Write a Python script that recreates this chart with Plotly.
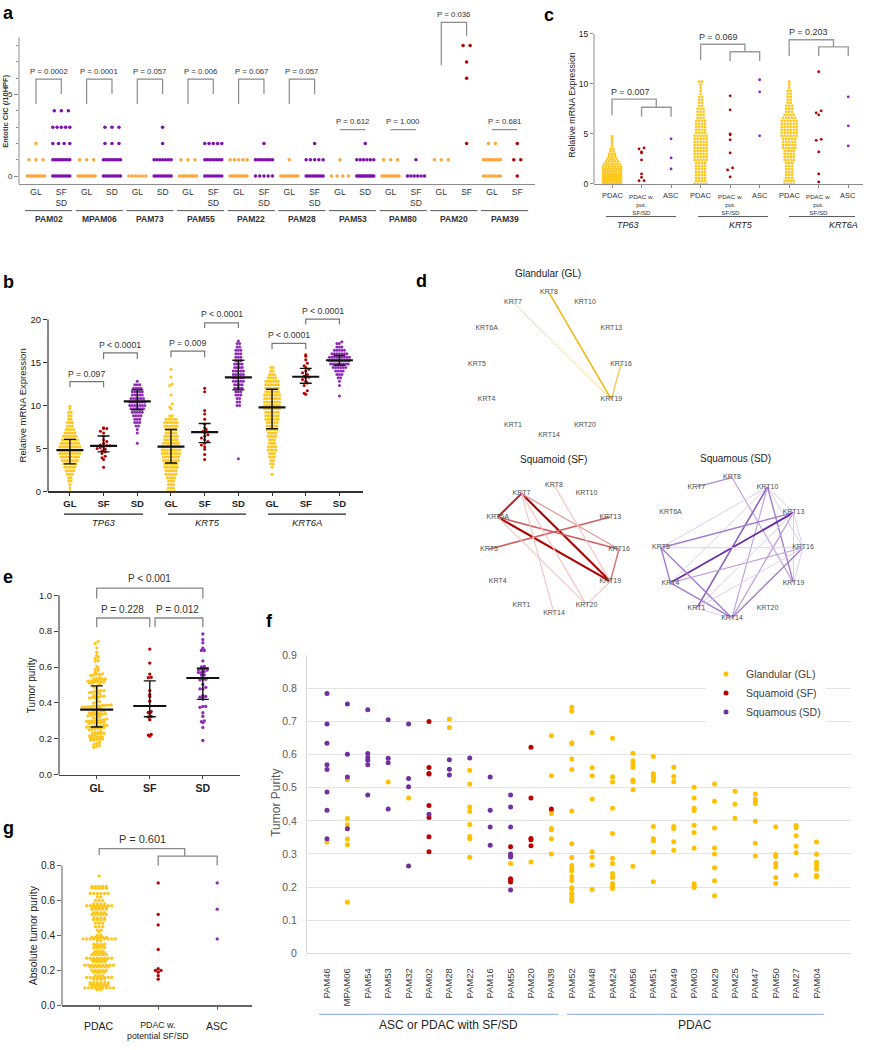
import math
import plotly.graph_objects as go

W, H = 870, 1050
FONT = "Arial, 'Liberation Sans', sans-serif"


def fx(p):
    return p / W


def fy(p):
    return 1 - p / H


# ======================= DATA =======================
# ---- panel a : dots per entotic CIC level (list index = CIC count /10HPF)
a_samples = ["PAM02", "MPAM06", "PAM73", "PAM55", "PAM22", "PAM28", "PAM53", "PAM80", "PAM20", "PAM39"]
a_second = ["SF<br>SD", "SD", "SD", "SF<br>SD", "SF<br>SD", "SF<br>SD", "SD", "SF<br>SD", "SF", "SF"]
a_sq_kind = ["SD", "SD", "SD", "SD", "SD", "SD", "SD", "SD", "SF", "SF"]
a_gl_counts = [[9, 3, 1], [9, 3], [6], [9, 3], [9, 5], [9, 1], [4, 1], [9, 3], [0, 3], [7, 9, 2]]
a_sq_counts = [[9, 9, 4, 5, 3], [9, 9, 3, 3], [9, 7, 1, 1], [8, 8, 5], [5, 8, 1], [9, 5, 1],
               [12, 6, 1], [6, 1], [0, 0, 1, 0, 0, 0, 1, 1, 2], [1, 2, 1]]
a_pvals = ["P = 0.0002", "P = 0.0001", "P = 0.057", "P = 0.006", "P = 0.067", "P = 0.057",
           "P = 0.612", "P = 1.000", "P = 0.036", "P = 0.681"]

# ---- panel b : relative mRNA expression (levels + dots per level, or explicit values)
b_genes = ["TP63", "KRT5", "KRT6A"]
b_types = ["GL", "SF", "SD"]
b_tp63_gl_lv = [0.0, 0.4, 0.8, 1.2, 1.6, 2.0, 2.4, 2.8, 3.2, 3.6, 4.0, 4.4, 4.8, 5.2, 5.6, 6.0, 6.4, 6.8,
                7.2, 7.6, 8.0, 8.4, 8.8, 9.2, 9.6, 9.9]
b_tp63_gl_ct = [1, 1, 1, 2, 2, 3, 4, 5, 6, 7, 8, 9, 9, 9, 8, 7, 6, 5, 4, 3, 3, 2, 2, 2, 1, 1]
b_tp63_sf = [7.4, 7.3, 7.3, 7.0, 6.8, 6.4, 6.0, 5.8, 5.6, 5.4, 5.3, 5.3, 5.2, 5.1, 5.0, 4.9, 4.7, 4.6,
             4.4, 4.1, 3.9, 3.7, 2.8]
b_tp63_sd_lv = [5.6, 6.8, 7.2, 7.6, 8.0, 8.4, 8.8, 9.2, 9.6, 10.0, 10.4, 10.8, 11.2, 11.6, 12.0, 12.4, 12.8]
b_tp63_sd_ct = [1, 1, 1, 2, 3, 3, 4, 5, 6, 7, 7, 6, 5, 5, 4, 3, 1]
b_krt5_gl_lv = [0.0, 0.4, 0.8, 1.2, 1.6, 2.0, 2.4, 2.8, 3.2, 3.6, 4.0, 4.4, 4.8, 5.2, 5.6, 6.0, 6.4, 6.8,
                7.2, 7.6, 8.0, 8.4, 8.8]
b_krt5_gl_ct = [4, 3, 3, 3, 4, 5, 5, 6, 6, 7, 7, 8, 8, 8, 7, 6, 6, 5, 5, 6, 6, 5, 2]
b_krt5_gl_tail = [9.6, 9.8, 10.2, 11.2, 12.3, 12.5, 13.3, 14.2]
b_krt5_sf = [12.0, 11.6, 9.4, 9.0, 8.4, 7.8, 7.4, 7.2, 7.0, 6.8, 6.6, 6.4, 6.2, 6.0, 5.8, 5.6, 5.4,
             5.2, 4.9, 4.3, 3.7]
b_krt5_sd_lv = [10.0, 10.4, 10.8, 11.2, 11.6, 12.0, 12.4, 12.8, 13.2, 13.6, 14.0, 14.4, 14.8, 15.2,
                15.6, 16.0, 16.4, 16.8, 17.2]
b_krt5_sd_ct = [2, 2, 2, 3, 3, 4, 4, 5, 5, 5, 5, 4, 4, 3, 3, 3, 3, 2, 2]
b_krt5_sd_extra = [3.8, 17.5]
b_krt6a_gl_lv = [2.0, 2.4, 2.8, 3.2, 3.6, 4.0, 4.4, 4.8, 5.2, 5.6, 6.0, 6.4, 6.8, 7.2, 7.6, 8.0, 8.4,
                 8.8, 9.2, 9.6, 10.0, 10.4, 10.8, 11.2, 11.6, 12.0, 12.4, 12.8, 13.2, 13.6, 14.0, 14.4]
b_krt6a_gl_ct = [1, 0, 1, 2, 2, 3, 3, 4, 4, 3, 3, 4, 4, 5, 5, 5, 6, 6, 6, 7, 7, 7, 7, 7, 6, 6, 6, 6,
                 4, 3, 2, 2]
b_krt6a_sf = [15.9, 15.7, 15.3, 14.9, 14.6, 14.4, 14.2, 14.0, 13.8, 13.6, 13.4, 13.3, 13.2, 13.0,
              12.8, 12.6, 12.3, 11.7, 11.4, 11.3]
b_krt6a_sd_lv = [12.8, 13.2, 13.6, 14.0, 14.4, 14.8, 15.2, 15.6, 16.0, 16.4, 16.8, 17.2]
b_krt6a_sd_ct = [1, 2, 3, 4, 6, 8, 9, 9, 7, 5, 3, 2]
b_krt6a_sd_extra = [11.1, 12.3, 17.4]
b_center = [4.79, 5.29, 10.46, 5.2, 6.9, 13.26, 9.77, 13.33, 15.25]
b_low = [3.2, 4.6, 9.5, 3.3, 5.67, 11.8, 7.28, 12.57, 14.67]
b_high = [6.05, 6.44, 11.8, 7.2, 7.9, 15.25, 11.88, 14.3, 15.8]
b_pvals = ["P = 0.097", "P < 0.0001", "P = 0.009", "P < 0.0001", "P < 0.0001", "P < 0.0001"]

# ---- panel c
c_tp63_pdac_lv = [0.0, 0.25, 0.5, 0.75, 1.0, 1.25, 1.5, 1.75, 2.0, 2.25, 2.5, 2.75, 3.0, 3.25, 3.5,
                  3.75, 4.0, 4.25, 4.5, 4.75]
c_tp63_pdac_ct = [12, 13, 12, 11, 10, 9, 8, 7, 6, 5, 4, 3, 3, 2, 2, 1, 1, 1, 1, 1]
c_krt_lv = [0.0, 0.3, 0.6, 0.9, 1.2, 1.5, 1.8, 2.1, 2.4, 2.7, 3.0, 3.3, 3.6, 3.9, 4.2, 4.5, 4.8, 5.1,
            5.4, 5.7, 6.0, 6.3, 6.6, 6.9, 7.2, 7.5, 7.8, 8.1, 8.4, 8.7, 9.0, 9.3, 9.6, 9.9, 10.2]
c_krt5_pdac_ct = [5, 4, 4, 4, 4, 4, 4, 4, 5, 5, 5, 5, 5, 5, 5, 5, 5, 4, 4, 4, 4, 4, 3, 3, 3, 3, 2, 2,
                  2, 2, 1, 1, 1, 1, 2]
c_krt6a_pdac_ct = [4, 4, 3, 3, 3, 3, 3, 3, 4, 4, 4, 4, 5, 5, 5, 5, 6, 6, 6, 6, 6, 6, 5, 4, 3, 3, 3, 2,
                   2, 2, 2, 2, 1, 1, 1]
c_pot = [[3.6, 3.5, 3.2, 3.1, 2.4, 1.0, 0.66, 0.33, 0.33],
         [8.8, 7.4, 5.0, 4.9, 4.4, 3.1, 1.6, 1.4, 0.7],
         [11.2, 7.3, 7.1, 6.9, 4.45, 4.35, 3.2, 1.0, 0.2]]
c_asc = [[4.5, 2.6, 1.5], [10.4, 9.2, 4.8], [8.7, 5.8, 3.8]]
c_pvals = ["P = 0.007", "P = 0.069", "P = 0.203"]

# ---- panel d : keratin correlation networks
d_nodes = ["KRT8", "KRT10", "KRT13", "KRT16", "KRT19", "KRT20", "KRT14", "KRT1", "KRT4", "KRT5",
           "KRT6A", "KRT7"]
d_gl_edges = [("KRT7", "KRT19", 1.0), ("KRT8", "KRT19", 2.6), ("KRT16", "KRT19", 1.8)]
d_sf_edges = [("KRT7", "KRT19", 3.0), ("KRT6A", "KRT19", 3.0), ("KRT7", "KRT6A", 2.7),
              ("KRT6A", "KRT16", 2.0), ("KRT5", "KRT13", 2.0), ("KRT7", "KRT16", 1.4),
              ("KRT16", "KRT19", 1.8), ("KRT8", "KRT19", 1.0), ("KRT7", "KRT20", 1.0),
              ("KRT7", "KRT14", 1.0), ("KRT6A", "KRT20", 1.0), ("KRT19", "KRT20", 1.0)]
d_sd_edges = [("KRT7", "KRT8", 1.8), ("KRT8", "KRT19", 1.5), ("KRT10", "KRT5", 1.0),
              ("KRT10", "KRT4", 1.0), ("KRT10", "KRT1", 2.4), ("KRT10", "KRT14", 1.5),
              ("KRT10", "KRT13", 1.0), ("KRT10", "KRT16", 1.0), ("KRT10", "KRT19", 2.0),
              ("KRT13", "KRT5", 2.0), ("KRT13", "KRT4", 3.0), ("KRT13", "KRT14", 1.6),
              ("KRT13", "KRT1", 1.0), ("KRT13", "KRT16", 1.0), ("KRT13", "KRT19", 1.0),
              ("KRT5", "KRT16", 1.0), ("KRT5", "KRT14", 2.0), ("KRT5", "KRT4", 2.0),
              ("KRT4", "KRT16", 1.5), ("KRT4", "KRT14", 2.0), ("KRT16", "KRT14", 2.0),
              ("KRT16", "KRT1", 1.0), ("KRT1", "KRT14", 1.0), ("KRT16", "KRT19", 1.0)]

# ---- panel f : tumor purity per sample and subtype
f_samples = ["PAM46", "MPAM06", "PAM54", "PAM53", "PAM32", "PAM02", "PAM28", "PAM22", "PAM16",
             "PAM55", "PAM20", "PAM39", "PAM52", "PAM48", "PAM24", "PAM56", "PAM51", "PAM49",
             "PAM03", "PAM29", "PAM25", "PAM47", "PAM50", "PAM27", "PAM04"]
f_gl = [[0.336], [0.524, 0.407, 0.388, 0.345, 0.328, 0.154], [], [0.517], [0.469], [],
        [0.707, 0.682], [0.553, 0.511, 0.442, 0.428, 0.389, 0.353, 0.346, 0.290], [], [0.271],
        [0.276], [0.657, 0.536, 0.432, 0.422, 0.377, 0.373, 0.346, 0.300],
        [0.743, 0.731, 0.636, 0.633, 0.587, 0.555, 0.430, 0.331, 0.289, 0.265, 0.256, 0.249, 0.232,
         0.220, 0.198, 0.194, 0.181, 0.170, 0.163, 0.157],
        [0.666, 0.560, 0.536, 0.466, 0.307, 0.290, 0.267, 0.193],
        [0.649, 0.533, 0.517, 0.438, 0.362, 0.287, 0.271, 0.241, 0.229, 0.211, 0.203, 0.196],
        [0.604, 0.581, 0.570, 0.561, 0.523, 0.518, 0.494, 0.263],
        [0.594, 0.542, 0.534, 0.527, 0.521, 0.383, 0.346, 0.340, 0.305, 0.216],
        [0.562, 0.534, 0.518, 0.383, 0.377, 0.337, 0.311],
        [0.501, 0.469, 0.438, 0.431, 0.387, 0.365, 0.317, 0.210, 0.203, 0.199],
        [0.511, 0.459, 0.378, 0.318, 0.300, 0.258, 0.219, 0.174],
        [0.489, 0.450, 0.408],
        [0.481, 0.465, 0.458, 0.452, 0.399, 0.332, 0.294],
        [0.382, 0.298, 0.292, 0.272, 0.261, 0.229, 0.211],
        [0.386, 0.379, 0.355, 0.323, 0.304, 0.236],
        [0.336, 0.299, 0.275, 0.265, 0.254, 0.235, 0.231]]
f_sf = [[], [], [], [], [], [0.700, 0.561, 0.543, 0.541, 0.446, 0.410, 0.352, 0.307], [], [], [],
        [0.322, 0.225, 0.221, 0.215], [0.622, 0.469, 0.347, 0.343, 0.325], [0.436],
        [], [], [], [], [], [], [], [], [], [], [], [], []]
f_sd = [[0.784, 0.692, 0.634, 0.569, 0.555, 0.487, 0.432, 0.346], [0.753, 0.601, 0.532, 0.376],
        [0.735, 0.603, 0.591, 0.583, 0.569, 0.478], [0.705, 0.589, 0.575, 0.436],
        [0.692, 0.528, 0.503, 0.264], [0.420], [0.584, 0.556, 0.538], [0.590],
        [0.532, 0.432, 0.381, 0.326], [0.478, 0.442, 0.381, 0.300, 0.296, 0.291, 0.191], [], [],
        [], [], [], [], [], [], [], [], [], [], [], [], []]

# ---- panel e : summary bars (median / IQR)
e_center = [0.363, 0.383, 0.539]
e_low = [0.266, 0.323, 0.420]
e_high = [0.495, 0.523, 0.593]

# ---- panel g : absolute tumor purity
g_pdac_lv = [0.74, 0.68, 0.67, 0.64, 0.62, 0.60, 0.58, 0.57, 0.56, 0.55, 0.53, 0.52, 0.50, 0.49,
             0.47, 0.45, 0.43, 0.42, 0.40, 0.39, 0.38, 0.37, 0.35, 0.34, 0.33, 0.31, 0.30, 0.29,
             0.27, 0.26, 0.25, 0.23, 0.22, 0.20, 0.19, 0.17, 0.16, 0.15, 0.13, 0.12, 0.11, 0.10, 0.09]
g_pdac_ct = [1, 5, 5, 6, 2, 3, 4, 8, 5, 5, 4, 5, 4, 4, 3, 3, 2, 1, 2, 5, 10, 2, 4, 3, 4, 3, 4, 5,
             8, 5, 4, 9, 6, 5, 4, 3, 8, 4, 6, 6, 5, 9, 2]
g_pot = [0.70, 0.52, 0.46, 0.32, 0.21, 0.20, 0.20, 0.19, 0.17, 0.15]
g_asc = [0.70, 0.55, 0.38]

# ======================= STYLE =======================
ORANGE_A = "#FFA53A"
PURPLE_A = "#7D10AE"
RED = "#B40000"
YEL = "#FFC61A"
PUR = "#8E2AB8"
F_COLORS = ["#FFC000", "#C00000", "#7030A0"]
TXT = "#333333"

fig = go.Figure()
shapes = []
annos = []


def expand(levels, counts, extra=()):
    out = []
    for v, n in zip(levels, counts):
        out += [v] * n
    return out + list(extra)


def swarm(vals, c, ppx, binw, sx, maxw):
    rows = {}
    for v in sorted(vals):
        rows.setdefault(int(math.floor(v / binw + 0.5)), []).append(v)
    xs, ys = [], []
    for k in sorted(rows):
        vs = rows[k]
        n = len(vs)
        step = sx if n == 1 else min(sx, maxw / (n - 1))
        for i, v in enumerate(vs):
            xs.append(c + (i - (n - 1) / 2) * step / ppx)
            ys.append(v)
    return xs, ys


def add_dots(xa, ya, xs, ys, color, size):
    fig.add_trace(go.Scatter(x=xs, y=ys, xaxis=xa, yaxis=ya, mode="markers",
                             marker=dict(color=color, size=size, line=dict(width=0)),
                             showlegend=False, hoverinfo="skip", cliponaxis=False))


def text(x, y, s, size, xref="paper", yref="paper", color=TXT, xanchor="center",
         yanchor="middle", angle=0):
    annos.append(dict(x=x, y=y, xref=xref, yref=yref, text=s, showarrow=False,
                      font=dict(size=size, color=color, family=FONT), xanchor=xanchor,
                      yanchor=yanchor, textangle=angle))


def seg(xr, yr, x0, y0, x1, y1, color, width):
    shapes.append(dict(type="line", xref=xr, yref=yr, x0=x0, y0=y0, x1=x1, y1=y1,
                       line=dict(color=color, width=width), layer="above"))


def path(xr, yr, pts, color, width):
    p = "M" + " L".join(f"{x},{y}" for x, y in pts)
    shapes.append(dict(type="path", xref=xr, yref=yr, path=p,
                       line=dict(color=color, width=width), layer="above"))


def errbars(xa, ya, xs, center, low, high, barpx):
    # plotly's line-ew symbol is 1.4 x marker size long
    fig.add_trace(go.Scatter(
        x=xs, y=center, xaxis=xa, yaxis=ya, mode="markers", showlegend=False, hoverinfo="skip",
        marker=dict(symbol="line-ew", size=barpx / 1.4, color="#111",
                    line=dict(width=2.2, color="#111")),
        error_y=dict(type="data", symmetric=False,
                     array=[h - c for h, c in zip(high, center)],
                     arrayminus=[c - l for c, l in zip(center, low)],
                     width=6, thickness=1.4, color="#111")))


layout_axes = {}


def set_axes(i, xpx, ypx, xr, yr, xkw, ykw):
    xs = "" if i == 1 else str(i)
    xa = dict(domain=[fx(xpx[0]), fx(xpx[1])], range=xr, anchor="y" + xs, showgrid=False,
              zeroline=False)
    ya = dict(domain=[fy(ypx[1]), fy(ypx[0])], range=yr, anchor="x" + xs, showgrid=False,
              zeroline=False)
    xa.update(xkw)
    ya.update(ykw)
    layout_axes["xaxis" + xs] = xa
    layout_axes["yaxis" + xs] = ya


# ======================= PANEL a =======================
a_ppx, a_ppy = 25.3, 16.5
a_top = -0.48 + (180 - 1) / a_ppy
for k in range(len(a_samples)):
    gl_vals = [lv for lv, n in enumerate(a_gl_counts[k]) for _ in range(n)]
    xs, ys = swarm(gl_vals, 2 * k, a_ppx, 1, 7, 17)
    add_dots("x", "y", xs, ys, ORANGE_A, 3.5)
    sq_vals = [lv for lv, n in enumerate(a_sq_counts[k]) for _ in range(n)]
    xs, ys = swarm(sq_vals, 2 * k + 1, a_ppx, 1, 7, 17)
    add_dots("x", "y", xs, ys, PURPLE_A if a_sq_kind[k] == "SD" else RED, 3.5)

a_ticktext = []
for s in a_second:
    a_ticktext += ["GL", s]
set_axes(1, (19, 535), (1, 180), [-0.67, 19.7], [-0.48, a_top],
         dict(tickvals=list(range(20)), ticktext=a_ticktext, ticks="", showline=True,
              linecolor="#8c8c8c", linewidth=1, tickfont=dict(size=8.5, color=TXT)),
         dict(tickvals=[0, 5], ticks="outside", ticklen=4, tickcolor="#8c8c8c",
              tickfont=dict(size=8, color=TXT),
              minor=dict(tickmode="array", tickvals=[1, 2, 3, 4, 6, 7, 8], ticks="outside",
                         ticklen=2, tickcolor="#8c8c8c")))
seg("paper", "y", fx(19), -0.48, fx(19), 8.5, "#8c8c8c", 1)
BR_A = "#8c8c8c"
for k, p in enumerate(a_pvals):
    g0, g1 = 2 * k, 2 * k + 1
    if k < 6:
        path("x", "y", [(g0, 4.42), (g0, 5.94), (g1, 5.94), (g1, 5.03)], BR_A, 1.2)
        text(g0 + 0.5, 6.42, p, 7.8, "x", "y")
    elif k == 8:
        path("x", "y", [(g0, 6.79), (g0, 9.42), (g1, 9.42), (g1, 8.6)], BR_A, 1.2)
        text(g0 + 0.5, 9.92, p, 7.8, "x", "y")
    else:
        seg("x", "y", g0, 2.85, g1, 2.85, BR_A, 1.2)
        text(g0 + 0.5, 3.35, p, 7.8, "x", "y")
    seg("x", "paper", g0 + 0.5 - 0.93, fy(207), g0 + 0.5 + 0.93, fy(207), "#555", 1)
    text(g0 + 0.5, fy(215.5), "<b>" + a_samples[k] + "</b>", 8.5, "x", "paper")
text(fx(6), fy(107), "<b>Entotic CIC (/10HPF)</b>", 7.5, angle=-90)

# ======================= PANEL b =======================
b_groups = [
    expand(b_tp63_gl_lv, b_tp63_gl_ct), b_tp63_sf, expand(b_tp63_sd_lv, b_tp63_sd_ct),
    expand(b_krt5_gl_lv, b_krt5_gl_ct, b_krt5_gl_tail), b_krt5_sf,
    expand(b_krt5_sd_lv, b_krt5_sd_ct, b_krt5_sd_extra),
    expand(b_krt6a_gl_lv, b_krt6a_gl_ct), b_krt6a_sf,
    expand(b_krt6a_sd_lv, b_krt6a_sd_ct, b_krt6a_sd_extra)]
b_colors = [YEL, RED, PUR]
for i, vals in enumerate(b_groups):
    sx = 2.5 if i % 3 != 1 else 3.2
    xs, ys = swarm(vals, i, 33.7, 0.4, sx, 21)
    add_dots("x2", "y2", xs, ys, b_colors[i % 3], 3.0)
errbars("x2", "y2", list(range(9)), b_center, b_low, b_high, 27)
b_ppy = 174 / 20
set_axes(2, (48, 363), (290, 491), [-0.65, 8.7], [0, (491 - 290) / b_ppy],
         dict(tickvals=list(range(9)), ticktext=["<b>%s</b>" % t for t in b_types * 3],
              ticks="outside", ticklen=3, tickcolor="#333", showline=True, linecolor="#333",
              linewidth=1.2, tickfont=dict(size=9.5, color="#222")),
         dict(tickvals=[0, 5, 10, 15, 20], ticks="outside", ticklen=4, tickcolor="#333",
              tickfont=dict(size=9.5, color="#222")))
seg("paper", "y2", fx(48), 0, fx(48), 20, "#333", 1.2)
b_br = [(0, 1, 12.76, 12.1, 13.7), (1, 2, 16.1, 15.4, 17.05), (3, 4, 16.3, 15.6, 17.3),
        (4, 5, 19.6, 19.0, 20.6), (6, 7, 17.2, 16.55, 18.2), (7, 8, 20.04, 19.4, 21.0)]
for (i0, i1, top, bot, ty), p in zip(b_br, b_pvals):
    path("x2", "y2", [(i0, bot), (i0, top), (i1, top), (i1, bot)], "#777", 1.2)
    text((i0 + i1) / 2, ty, p, 8.7, "x2", "y2")
for (x0, x1, xc), gname in zip([(64, 143, 103.5), (168, 246, 207), (268, 346, 307)], b_genes):
    seg("paper", "paper", fx(x0), fy(514), fx(x1), fy(514), "#222", 1.3)
    text(fx(xc), fy(522.5), "<i>" + gname + "</i>", 9.5, color="#222")
text(fx(22), fy(404), "Relative mRNA Expression", 9.5, color="#222", angle=-90)

# ======================= PANEL c =======================
c_pdac = [expand(c_tp63_pdac_lv, c_tp63_pdac_ct), expand(c_krt_lv, c_krt5_pdac_ct),
          expand(c_krt_lv, c_krt6a_pdac_ct)]
for g in range(3):
    binw = 0.25 if g == 0 else 0.3
    xs, ys = swarm(c_pdac[g], 3 * g, 29.5, binw, 3.0, 18)
    add_dots("x3", "y3", xs, ys, YEL, 2.8)
    xs, ys = swarm(c_pot[g], 3 * g + 1, 29.5, 0.3, 5, 18)
    add_dots("x3", "y3", xs, ys, RED, 2.8)
    xs, ys = swarm(c_asc[g], 3 * g + 2, 29.5, 0.3, 5, 18)
    add_dots("x3", "y3", xs, ys, "#8B1FD0", 2.8)
c_ppy = 152 / 15
set_axes(3, (594, 863), (15, 180), [-0.61, 8.5], [0, (180 - 15) / c_ppy],
         dict(tickvals=list(range(9)), ticktext=[""] * 9, ticks="outside", ticklen=3,
              tickcolor="#8c8c8c", showline=True, linecolor="#8c8c8c", linewidth=1),
         dict(tickvals=[0, 5, 10, 15], ticks="outside", ticklen=3, tickcolor="#8c8c8c",
              tickfont=dict(size=8.5, color="#222")))
seg("paper", "y3", fx(594), 0, fx(594), 15, "#8c8c8c", 1)
c_br = [(8.47, 6.86, 7.65, 6.7, 0.63, 9.2), (13.95, 12.36, 13.2, 12.27, 3.6, 14.7),
        (14.4, 12.76, 13.68, 12.76, 6.64, 15.2)]
for g, ((top, lbot, sub, sbot, tx, ty), p) in enumerate(zip(c_br, c_pvals)):
    i0 = 3 * g
    path("x3", "y3", [(i0, lbot), (i0, top), (i0 + 1.5, top), (i0 + 1.5, sub)], "#999", 1.4)
    path("x3", "y3", [(i0 + 1, sbot), (i0 + 1, sub), (i0 + 2, sub), (i0 + 2, sbot)], "#999", 1.4)
    text(tx, ty, p, 9, "x3", "y3")
    text(i0, fy(192), "PDAC", 7.5, "x3", "paper")
    text(i0 + 1, fy(187), "PDAC w.<br>pot.<br>SF/SD", 6.2, "x3", "paper", yanchor="top")
    text(i0 + 2, fy(192), "ASC", 7.5, "x3", "paper")
for (x0, x1, xc), gname in zip([(606, 676, 628), (698, 768, 741), (789, 855, 843)], b_genes):
    seg("paper", "paper", fx(x0), fy(213), fx(x1), fy(213), "#555", 1)
    text(fx(xc), fy(222), "<i>" + gname + "</i>", 9, color="#222")
text(fx(572), fy(100), "Relative mRNA Expression", 8.8, color="#222", angle=-90)

# ======================= PANEL d =======================
d_pos = {}
for i, n in enumerate(d_nodes):
    ang = math.radians(90 - 30 * i)
    d_pos[n] = (math.cos(ang), math.sin(ang))


def hex2rgb(h):
    return tuple(int(h[j:j + 2], 16) for j in (1, 3, 5))


def mix(c1, c2, t):
    a, b = hex2rgb(c1), hex2rgb(c2)
    return "rgb(%d,%d,%d)" % tuple(round(a[j] + (b[j] - a[j]) * t) for j in range(3))


nets = [(4, d_gl_edges, "#FFD77A", "#EDB000", (549, 362), 72, "Glandular (GL)", (548, 271), 0.4),
        (5, d_sf_edges, "#F5C2C2", "#AE0000", (554, 549.5), 65, "Squamoid (SF)", (553, 459), 0.5),
        (6, d_sd_edges, "#DDCEEE", "#6A2BAA", (732, 548), 71, "Squamous (SD)", (735, 458), 0.4)]
for ax, edges, light, dark, (cx, cy), r, title, (tx, ty), wk in nets:
    for a, b, w in edges:
        t = (w - 1) / 2
        fig.add_trace(go.Scatter(
            x=[d_pos[a][0], d_pos[b][0]], y=[d_pos[a][1], d_pos[b][1]], xaxis="x%d" % ax,
            yaxis="y%d" % ax, mode="lines",
            line=dict(color=mix(light, dark, t), width=0.6 + wk * w),
            showlegend=False, hoverinfo="skip"))
    fig.add_trace(go.Scatter(
        x=[d_pos[n][0] for n in d_nodes], y=[d_pos[n][1] for n in d_nodes], text=d_nodes,
        xaxis="x%d" % ax, yaxis="y%d" % ax, mode="text", showlegend=False, hoverinfo="skip",
        textfont=dict(size=7, color="#4d4d4d", family=FONT), cliponaxis=False))
    half = 1.4 * r
    set_axes(ax, (cx - half, cx + half), (cy - half, cy + half), [-1.4, 1.4], [-1.4, 1.4],
             dict(visible=False), dict(visible=False))
    text(fx(tx), fy(ty), title, 10, color="#222")

# ======================= PANEL e =======================
e_groups = [sum(f_gl, []), sum(f_sf, []), sum(f_sd, [])]
for i, vals in enumerate(e_groups):
    xs, ys = swarm(vals, i, 53, 0.016, 2.9, 36)
    add_dots("x7", "y7", xs, ys, [YEL, RED, PUR][i], 3.3)
errbars("x7", "y7", [0, 1, 2], e_center, e_low, e_high, 33)
e_ppy = 181.7
set_axes(7, (59, 240), (568, 777.7), [-0.71, 2.7], [0, (777.7 - 568) / e_ppy],
         dict(tickvals=[0, 1, 2], ticktext=["<b>GL</b>", "<b>SF</b>", "<b>SD</b>"], ticks="outside",
              ticklen=3, tickcolor="#444", showline=True, linecolor="#444", linewidth=1.2,
              tickfont=dict(size=10.5, color="#222")),
         dict(tickvals=[0, 0.2, 0.4, 0.6, 0.8, 1.0],
              ticktext=["0.0", "0.2", "0.4", "0.6", "0.8", "1.0"], ticks="outside", ticklen=4,
              tickcolor="#444", tickfont=dict(size=9.5, color="#222")))
seg("paper", "y7", fx(59), 0, fx(59), 1.0, "#444", 1.2)
path("x7", "y7", [(0, 0.822), (0, 0.873), (1, 0.873), (1, 0.822)], "#888", 1.3)
path("x7", "y7", [(1.1, 0.822), (1.1, 0.873), (2, 0.873), (2, 0.822)], "#888", 1.3)
path("x7", "y7", [(0, 0.982), (0, 1.039), (2, 1.039), (2, 0.982)], "#888", 1.3)
text(0.48, 0.923, "P = 0.228", 10, "x7", "y7")
text(1.53, 0.92, "P = 0.012", 10, "x7", "y7")
text(1.0, 1.092, "P < 0.001", 10, "x7", "y7")
text(fx(31), fy(687), "Tumor purity", 10, color="#222", angle=-90)

# ======================= PANEL f =======================
f_names = ["Glandular (GL)", "Squamoid (SF)", "Squamous (SD)"]
for name, data, col in zip(f_names, [f_gl, f_sf, f_sd], F_COLORS):
    xs = [s for s, vs in zip(f_samples, data) for _ in vs]
    ys = [v for vs in data for v in vs]
    fig.add_trace(go.Scatter(x=xs, y=ys, xaxis="x8", yaxis="y8", mode="markers", name=name,
                             marker=dict(color=col, size=5, line=dict(width=0)),
                             showlegend=True, hoverinfo="skip"))
set_axes(8, (307, 851), (656.7, 958.3), [-0.98, 25.69], [0, 0.9],
         dict(type="category", categoryorder="array", categoryarray=f_samples, tickangle=-90,
              tickfont=dict(size=9.5, color="#404040"), ticks="", showline=True,
              linecolor="#d9d9d9", ticklabelstandoff=10),
         dict(dtick=0.1, tick0=0, showgrid=True, gridcolor="#e4e4e4", gridwidth=1,
              tickfont=dict(size=10.5, color="#595959"), ticks="", showline=True,
              linecolor="#d9d9d9", ticklabelstandoff=7))
seg("paper", "paper", fx(319), fy(1020), fx(558), fy(1020), "#9DBCEB", 1.2)
seg("paper", "paper", fx(567), fy(1020), fx(824), fy(1020), "#9DBCEB", 1.2)
text(fx(448), fy(1031), "ASC or PDAC with SF/SD", 12, color="#262626")
text(fx(695), fy(1031), "PDAC", 12, color="#262626")
text(fx(276), fy(806), "Tumor Purity", 12, color="#595959", angle=-90)

# ======================= PANEL g =======================
xs, ys = swarm(expand(g_pdac_lv, g_pdac_ct), 0, 59, 0.01, 3.6, 36)
add_dots("x9", "y9", xs, ys, YEL, 3.3)
xs, ys = swarm(g_pot, 1, 59, 0.012, 5.5, 36)
add_dots("x9", "y9", xs, ys, RED, 3.3)
xs, ys = swarm(g_asc, 2, 59, 0.012, 5.5, 36)
add_dots("x9", "y9", xs, ys, PUR, 3.3)
g_ppy = 177.1
set_axes(9, (62, 252), (820, 1011), [-0.63, 2.59], [0, (1011 - 820) / g_ppy],
         dict(tickvals=[0, 1, 2], ticktext=["", "", ""], ticks="outside", ticklen=3,
              tickcolor="#666", showline=True, linecolor="#666", linewidth=1.1),
         dict(tickvals=[0, 0.2, 0.4, 0.6, 0.8], ticktext=["0.0", "0.2", "0.4", "0.6", "0.8"],
              ticks="outside", ticklen=4, tickcolor="#666", tickfont=dict(size=10, color="#222")))
seg("paper", "y9", fx(62), 0, fx(62), 0.8, "#666", 1.1)
path("x9", "y9", [(0, 0.858), (0, 0.896), (1.45, 0.896), (1.45, 0.853)], "#888", 1.3)
path("x9", "y9", [(1, 0.80), (1, 0.853), (2, 0.853), (2, 0.80)], "#888", 1.3)
text(0.73, 0.95, "P = 0.601", 11, "x9", "y9")
text(0, fy(1032), "PDAC", 10.5, "x9", "paper", color="#222")
text(1, fy(1024), "PDAC w.<br>potential SF/SD", 8.8, "x9", "paper", color="#222", yanchor="top")
text(2, fy(1032), "ASC", 10.5, "x9", "paper", color="#222")
text(fx(33), fy(940), "Absolute tumor purity", 10.5, color="#222", angle=-90)

# ======================= panel letters =======================
for L, (lx, ly) in zip("abcdefg", [(1, 7), (1, 279), (542, 9), (414, 278), (1, 578), (264, 622),
                                   (1, 832)]):
    text(fx(lx), fy(ly), "<b>%s</b>" % L, 18, color="#000", xanchor="left")

fig.update_layout(
    width=W, height=H, margin=dict(l=0, r=0, t=0, b=0), paper_bgcolor="white",
    plot_bgcolor="rgba(0,0,0,0)", font=dict(family=FONT, color=TXT), hovermode=False,
    showlegend=True, shapes=shapes, annotations=annos,
    legend=dict(x=fx(706), y=fy(661), xanchor="left", yanchor="top", bgcolor="white",
                font=dict(size=10.5, color="#404040", family=FONT), itemwidth=30,
                tracegroupgap=0),
    **layout_axes)

fig.write_html("out.html", config={"displayModeBar": False, "staticPlot": True},
               post_script="document.body.style.margin='0px';document.body.style.padding='0px';")
